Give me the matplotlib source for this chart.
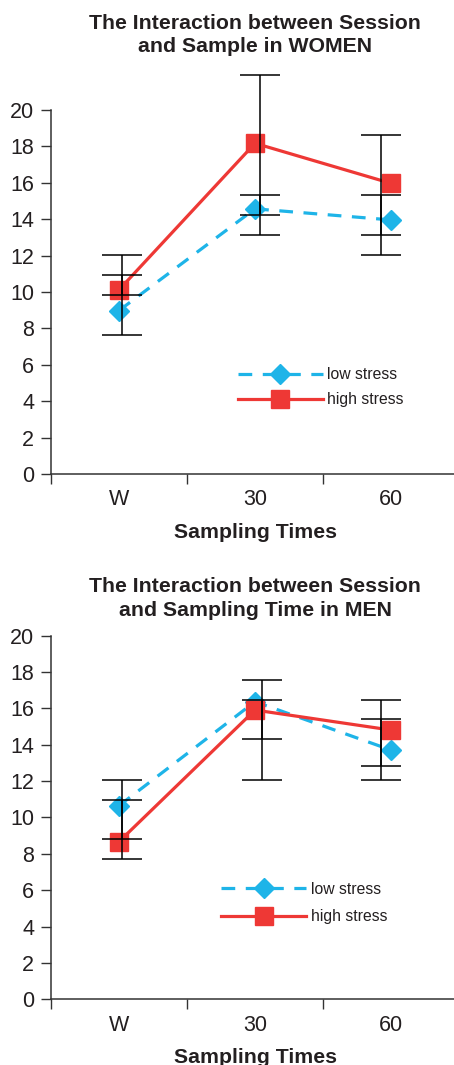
import numpy as np
import matplotlib
matplotlib.use('Agg')
import matplotlib.pyplot as plt
from matplotlib.ticker import FixedLocator

plt.rcParams['font.family'] = ['Liberation Sans', 'DejaVu Sans']

times = ['W', '30', '60']

# women
low_w = [8.98, 14.57, 13.96]
high_w = [10.12, 18.17, 15.97]
low_w_upper = [10.94, 15.33, 15.33]
low_w_lower = [7.65, 13.14, 12.04]
high_w_upper = [12.04, 21.92, 18.63]
high_w_lower = [9.84, 14.24, 13.14]

# men
low_m = [10.65, 16.37, 13.71]
high_m = [8.67, 15.91, 14.81]
low_m_upper = [12.06, 17.56, 15.40]
low_m_lower = [8.80, 14.30, 12.06]
high_m_upper = [10.96, 16.46, 16.46]
high_m_lower = [7.70, 12.06, 12.83]

BLUE = '#1eb4e8'
RED = '#ee3835'
INK = '#231f20'


def panel(ax, title, low, high, lo_up, lo_dn, hi_up, hi_dn, bar_shift, leg_anchor, leg_space, title_pad):
    x = np.arange(1, len(times) + 1)
    ax.plot(x, low, color=BLUE, lw=2.3, dashes=(4.3, 3.3), marker='D', ms=10,
            label='low stress', zorder=2)
    ax.plot(x, high, color=RED, lw=2.3, marker='s', ms=13,
            label='high stress', zorder=2)
    xb = x + np.array(bar_shift)
    for vals, up, dn in [(high, hi_up, hi_dn), (low, lo_up, lo_dn)]:
        vals = np.array(vals)
        yerr = [vals - np.array(dn), np.array(up) - vals]
        ax.errorbar(xb, vals, yerr=yerr, fmt='none', ecolor='black', elinewidth=1.1,
                    capsize=14.5, capthick=1.1, zorder=3, clip_on=False)

    ax.set_xlim(0.5, 3.5)
    ax.set_ylim(0, 20)
    ax.set_yticks(range(0, 21, 2))
    ax.set_xticks(x)
    ax.set_xticklabels(times)
    ax.xaxis.set_minor_locator(FixedLocator([0.5, 1.5, 2.5, 3.5]))
    ax.tick_params(axis='x', which='major', length=0, pad=11, labelsize=15.5, labelcolor=INK)
    ax.tick_params(axis='x', which='minor', length=7, width=1, color='#333333', direction='out')
    ax.tick_params(axis='y', length=7, width=1, color='#333333', pad=5, labelsize=15.5, labelcolor=INK)
    for s in ['top', 'right']:
        ax.spines[s].set_visible(False)
    for s in ['left', 'bottom']:
        ax.spines[s].set_linewidth(1.1)
        ax.spines[s].set_color('#333333')
    ax.set_xlabel('Sampling Times', fontsize=15.3, fontweight='bold', color=INK, labelpad=9)
    ax.set_title(title, fontsize=15.3, fontweight='bold', color=INK, pad=title_pad,
                 linespacing=1.32)
    ax.legend(loc='upper left', bbox_to_anchor=leg_anchor, frameon=False, fontsize=11.3,
              handlelength=5.4, handletextpad=0.3, labelspacing=leg_space, borderpad=0,
              borderaxespad=0, numpoints=1, labelcolor=INK)


fig = plt.figure(figsize=(4.54, 10.65), dpi=100)
ax1 = fig.add_axes([51 / 454, 1 - 474 / 1065, 408 / 454, 364 / 1065])
ax2 = fig.add_axes([51 / 454, 1 - 999.3 / 1065, 408 / 454, 363.6 / 1065])

panel(ax1, 'The Interaction between Session\nand Sample in WOMEN', low_w, high_w,
      low_w_upper, low_w_lower, high_w_upper, high_w_lower,
      [0.02, 0.04, -0.07], (0.458, 0.293), 0.62, 41.5)
panel(ax2, 'The Interaction between Session\nand Sampling Time in MEN', low_m, high_m,
      low_m_upper, low_m_lower, high_m_upper, high_m_lower,
      [0.02, 0.05, -0.07], (0.417, 0.3235), 0.8, 14.5)

fig.savefig('out.png', dpi=100)
